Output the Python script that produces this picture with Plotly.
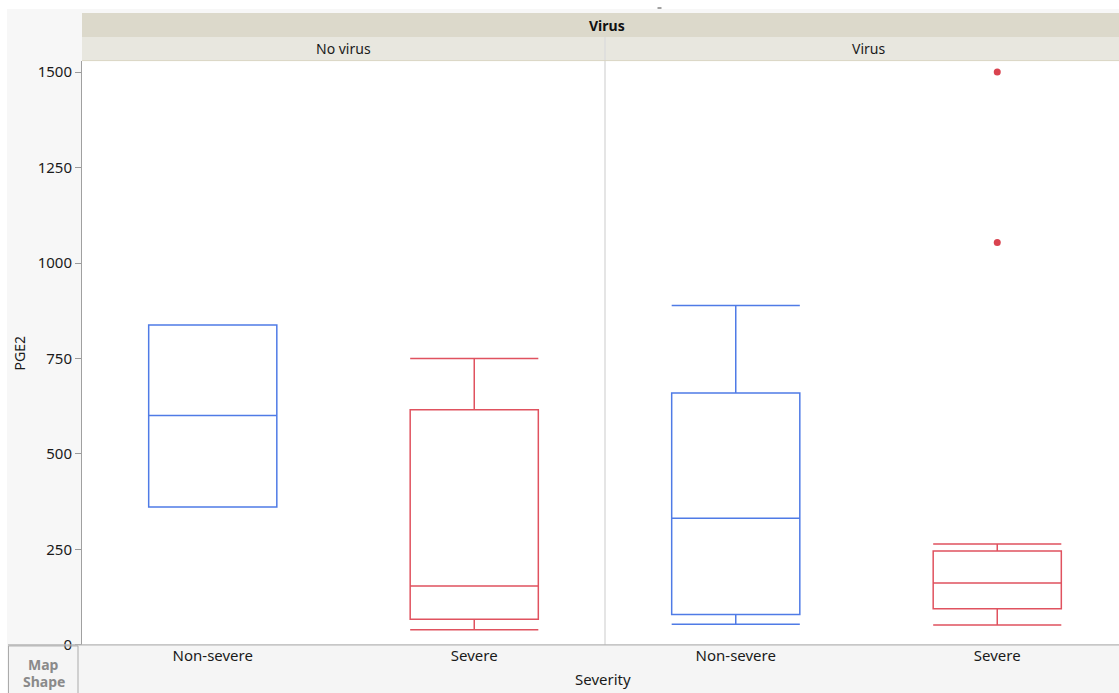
import plotly.graph_objects as go

# --- data -------------------------------------------------------------------
severity = ["Non-severe", "Severe"]
virus_groups = ["No virus", "Virus"]

# five-number summaries per (virus group, severity)
q1_vals = {"No virus": [361, 67], "Virus": [80, 95]}
median_vals = {"No virus": [601, 154], "Virus": [332, 162]}
q3_vals = {"No virus": [838, 616], "Virus": [660, 246]}
low_vals = {"No virus": [361, 40], "Virus": [54, 52]}
high_vals = {"No virus": [838, 750], "Virus": [889, 264]}

outlier_x = ["Severe", "Severe"]
outlier_y = [1500, 1054]

y_ticks = [0, 250, 500, 750, 1000, 1250, 1500]

# --- styling ----------------------------------------------------------------
W, H = 1119, 693
FIG_H = 703
FONT = "Noto Sans"
colors = {"Non-severe": "#4f7be6", "Severe": "#e0525f"}
outlier_color = "#d9434f"


def px(x):
    return x / W


def py(y):
    return 1 - y / H


plot_left, plot_mid, plot_right = 82, 605, 1119
plot_top, plot_bottom = 61, 644
slot = (plot_mid - plot_left) / 2.0  # pixel width of one category slot

fig = go.Figure()

axes = {"No virus": ("x", "y"), "Virus": ("x2", "y2")}
for grp in virus_groups:
    xa, ya = axes[grp]
    for i, sev in enumerate(severity):
        fig.add_trace(go.Box(
            x=[sev],
            q1=[q1_vals[grp][i]],
            median=[median_vals[grp][i]],
            q3=[q3_vals[grp][i]],
            lowerfence=[low_vals[grp][i]],
            upperfence=[high_vals[grp][i]],
            boxpoints=False,
            width=0.49,
            whiskerwidth=1,
            fillcolor="rgba(255,255,255,0)",
            line=dict(color=colors[sev], width=1.5),
            xaxis=xa, yaxis=ya,
            showlegend=False,
            hoverinfo="y",
        ))

fig.add_trace(go.Scatter(
    x=outlier_x, y=outlier_y, mode="markers",
    marker=dict(color=outlier_color, size=7),
    xaxis="x2", yaxis="y2", showlegend=False,
))

y_range = [0, (plot_bottom - plot_top) / ((plot_bottom - 72) / 1500.0)]
y_domain = [py(plot_bottom), py(plot_top)]

common_x = dict(
    type="category", categoryorder="array", categoryarray=severity,
    showgrid=False, zeroline=False, showline=False, ticks="",
    tickfont=dict(family=FONT, size=15, color="#1a1a1a"),
    fixedrange=True,
)
fig.update_layout(
    width=W, height=FIG_H, autosize=False,
    margin=dict(l=0, r=0, t=0, b=0, pad=0),
    paper_bgcolor="white",
    plot_bgcolor="white",
    font=dict(family=FONT, color="#1a1a1a"),
    xaxis=dict(common_x, domain=[px(plot_left), px(plot_mid)], range=[-0.5, 1.5],
               anchor="y"),
    xaxis2=dict(common_x, domain=[px(plot_mid), px(plot_right)],
                range=[-0.5, -0.5 + (plot_right - plot_mid) / slot], anchor="y2"),
    yaxis=dict(domain=y_domain, range=y_range, tickvals=y_ticks,
               ticks="outside", ticklen=6, tickcolor="#9a9a9a",
               showline=True, linecolor="#a0a0a0", linewidth=1,
               showgrid=False, zeroline=False,
               tickfont=dict(family=FONT, size=15, color="#1a1a1a"),
               anchor="x"),
    yaxis2=dict(domain=y_domain, range=y_range, tickvals=y_ticks,
                showticklabels=False, ticks="", showline=False,
                showgrid=False, zeroline=False, anchor="x2"),
)

shapes = []
# light grey frame behind everything
shapes.append(dict(type="rect", xref="paper", yref="paper", layer="below",
                   x0=px(7), x1=1, y0=0, y1=py(9),
                   fillcolor="#f7f7f7", line=dict(width=0)))
# white plotting surface
shapes.append(dict(type="rect", xref="paper", yref="paper", layer="below",
                   x0=px(plot_left), x1=1, y0=py(plot_bottom), y1=py(plot_top),
                   fillcolor="white", line=dict(width=0)))
# header bands
shapes.append(dict(type="rect", xref="paper", yref="paper", layer="below",
                   x0=px(plot_left), x1=1, y0=py(37), y1=py(13),
                   fillcolor="#dcd9cb", line=dict(width=0)))
shapes.append(dict(type="rect", xref="paper", yref="paper", layer="below",
                   x0=px(plot_left), x1=1, y0=py(60), y1=py(37),
                   fillcolor="#e8e7df", line=dict(width=0)))
shapes.append(dict(type="line", xref="paper", yref="paper",
                   x0=px(plot_left), x1=1, y0=py(60.5), y1=py(60.5),
                   line=dict(color="#d9d5c3", width=1)))
# panel divider
shapes.append(dict(type="line", xref="paper", yref="paper", layer="below",
                   x0=px(plot_mid), x1=px(plot_mid), y0=py(plot_bottom), y1=py(37),
                   line=dict(color="#dcdcdc", width=1.5)))
# bottom axis strip
shapes.append(dict(type="rect", xref="paper", yref="paper", layer="below",
                   x0=px(8), x1=1, y0=0, y1=py(plot_bottom),
                   fillcolor="#f5f5f5", line=dict(width=0)))
shapes.append(dict(type="line", xref="paper", yref="paper",
                   x0=px(8), x1=1, y0=py(plot_bottom), y1=py(plot_bottom),
                   line=dict(color="#b4b4b4", width=1.2)))
# "Map Shape" button outline
shapes.append(dict(type="rect", xref="paper", yref="paper",
                   x0=px(8.5), x1=px(78), y0=py(710), y1=py(645),
                   fillcolor="rgba(0,0,0,0)", line=dict(color="#ababab", width=1)))
# small mark above the header
shapes.append(dict(type="line", xref="paper", yref="paper",
                   x0=px(657.5), x1=px(661.5), y0=py(8), y1=py(8),
                   line=dict(color="#444444", width=1)))

annotations = [
    dict(text="<b>Virus</b>", x=px((plot_left + 1132) / 2), y=py(25.5),
         font=dict(size=14, family=FONT, color="#111111")),
    dict(text="No virus", x=px((plot_left + plot_mid) / 2), y=py(48.5),
         font=dict(size=14, family=FONT, color="#1a1a1a")),
    dict(text="Virus", x=px((plot_mid + 1132) / 2), y=py(48.5),
         font=dict(size=14, family=FONT, color="#1a1a1a")),
    dict(text="PGE2", x=px(20), y=py(353), textangle=-90,
         font=dict(size=14, family=FONT, color="#1a1a1a")),
    dict(text="Severity", x=px(603), y=py(678),
         font=dict(size=15, family=FONT, color="#1a1a1a")),
    dict(text="<b>Map</b>", x=px(43.5), y=py(664),
         font=dict(size=14, family=FONT, color="#8a8a8a")),
    dict(text="<b>Shape</b>", x=px(43.5), y=py(681),
         font=dict(size=14, family=FONT, color="#8a8a8a")),
]
for a in annotations:
    a.update(xref="paper", yref="paper", showarrow=False,
             xanchor="center", yanchor="middle")

fig.update_layout(shapes=shapes, annotations=annotations)

fig.write_html("out.html", config={"displayModeBar": False, "responsive": False})
